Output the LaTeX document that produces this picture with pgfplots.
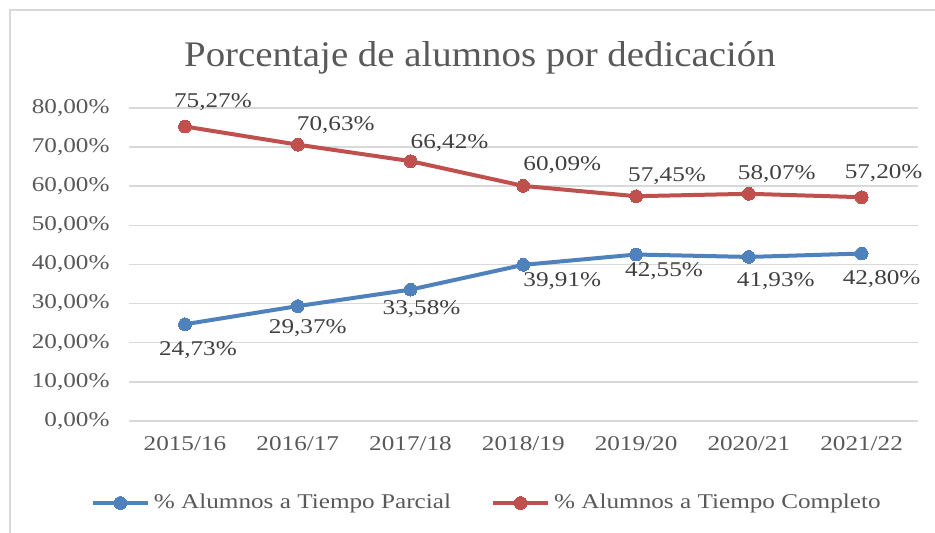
\documentclass[border=0pt]{standalone}
\usepackage{pgfplots}
\pgfplotsset{compat=1.18}
\usepackage{pgfplotstable}
\usepackage{fontspec}
\setmainfont{Liberation Serif}[FakeStretch=1.2]
\newfontfamily\titlefont{Liberation Serif}[FakeStretch=1.08]
\definecolor{cblue}{HTML}{4F81BD}
\definecolor{cred}{HTML}{C0504D}
\definecolor{ctext}{HTML}{595959}
\definecolor{clab}{HTML}{404040}
\definecolor{cgrid}{HTML}{D9D9D9}

\pgfplotstableread{
x y dx dy
0 24.73 6.5 -13
1 29.37 5 -11
2 33.58 5.5 -10
3 39.91 19.5 -8
4 42.55 14 -8.5
5 41.93 13.5 -12
6 42.80 10 -13
}\parcial
\pgfplotstableread{
x y dx dy
0 75.27 14 12
1 70.63 19 10
2 66.42 19.5 9
3 60.09 19.5 10.5
4 57.45 15.5 10
5 58.07 14 10
6 57.20 11 12
}\completo

\begin{document}
\begin{tikzpicture}
\useasboundingbox (0,0) rectangle (467.5pt,266.5pt);
\draw[cgrid, line width=0.75pt] (5pt,-10pt) -- (5pt,261.5pt) -- (480pt,261.5pt);
\node[ctext, font=\titlefont\fontsize{18}{20}\selectfont] at (240pt,237.5pt) {Porcentaje de alumnos por dedicación};
\begin{axis}[
  at={(64.3pt,56pt)}, anchor=south west,
  scale only axis, width=394.7pt, height=156.5pt,
  xmin=-0.5, xmax=6.5, ymin=0, ymax=80,
  clip=false,
  axis line style={draw=none},
  tick style={draw=none},
  ymajorgrids, grid style={cgrid, line width=0.75pt},
  xtick={0,...,6},
  xticklabels={2015/16,2016/17,2017/18,2018/19,2019/20,2020/21,2021/22},
  ytick={0,10,...,80},
  yticklabels={0{,}00\%,10{,}00\%,20{,}00\%,30{,}00\%,40{,}00\%,50{,}00\%,60{,}00\%,70{,}00\%,80{,}00\%},
  ticklabel style={font=\fontsize{10.5}{12}\selectfont, text=ctext},
  yticklabel style={xshift=-6pt},
  xticklabel style={yshift=-4pt},
  /pgf/number format/assume math mode=true,
  nodes near coords={\pgfmathprintnumber[fixed,fixed zerofill,precision=2,use comma,assume math mode=true]{\pgfplotspointmeta}\%},
  point meta=y,
  visualization depends on={\thisrow{dx}\as\dx},
  visualization depends on={\thisrow{dy}\as\dy},
  every node near coord/.append style={anchor=center, font=\fontsize{10.5}{12}\selectfont, text=clab, xshift=\dx pt, yshift=\dy pt},
  legend style={at={(0.455,-0.262)}, anchor=center, draw=none, fill=none,
    legend columns=2, font=\fontsize{10.5}{12}\selectfont, text=ctext,
    /tikz/every even column/.append style={column sep=18pt},
    inner sep=0pt},
  legend image code/.code={\draw[mark repeat=2,mark phase=2,#1] plot coordinates {(0pt,0pt) (13.75pt,0pt) (27.5pt,0pt)};},
]
\addplot[cblue, line width=2pt, mark=*, mark size=3.2pt, mark options={fill=cblue, draw=cblue, line width=0pt}] table[x=x,y=y] {\parcial};
\addlegendentry{\% Alumnos a Tiempo Parcial}
\addplot[cred, line width=2pt, mark=*, mark size=3.2pt, mark options={fill=cred, draw=cred, line width=0pt}] table[x=x,y=y] {\completo};
\addlegendentry{\% Alumnos a Tiempo Completo}
\end{axis}
\end{tikzpicture}
\end{document}
